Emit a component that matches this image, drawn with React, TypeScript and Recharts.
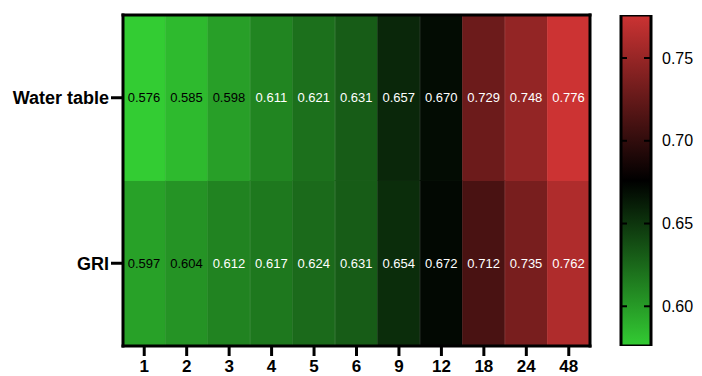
import React from 'react';
import { BarChart, Bar, XAxis, YAxis, Cell, LabelList } from 'recharts';

const timepoints = ['1', '2', '3', '4', '5', '6', '9', '12', '18', '24', '48'];
const waterTable = [0.576, 0.585, 0.598, 0.611, 0.621, 0.631, 0.657, 0.670, 0.729, 0.748, 0.776];
const gri = [0.597, 0.604, 0.612, 0.617, 0.624, 0.631, 0.654, 0.672, 0.712, 0.735, 0.762];
const rowNames = ['GRI', 'Water table'];
const rowTicks = [0.5, 1.5];
const colorTicks = [0.6, 0.65, 0.7, 0.75];
const colorDomain: [number, number] = [0.576, 0.776];

const data = timepoints.map((t, i) => ({ t, gri: gri[i], water: waterTable[i] }));
const cbData = [{ name: 'scale', range: colorDomain }];

const LOW = [51, 204, 51];
const HIGH = [204, 51, 51];
function colorOf(v: number): string {
  const t = Math.max(0, Math.min(1, (v - colorDomain[0]) / (colorDomain[1] - colorDomain[0])));
  let c: number[];
  if (t < 0.5) {
    const f = (0.5 - t) / 0.5;
    c = LOW.map((x) => Math.round(x * f));
  } else {
    const f = (t - 0.5) / 0.5;
    c = HIGH.map((x) => Math.round(x * f));
  }
  return `rgb(${c[0]},${c[1]},${c[2]})`;
}

const FONT = '"Liberation Sans", Arial, sans-serif';

const renderValue = (p: any) => {
  const v = Number(p.value);
  return (
    <text
      x={p.x + p.width / 2}
      y={p.y + p.height / 2}
      textAnchor="middle"
      dominantBaseline="central"
      fontSize={13}
      fontFamily={FONT}
      fill={v < 0.607 ? '#000' : '#fff'}
    >
      {v.toFixed(3)}
    </text>
  );
};

const ColorTick = (p: any) => {
  const { x, y, payload } = p;
  return (
    <g>
      <line x1={x - 31} x2={x - 24} y1={y} y2={y} stroke="#000" strokeWidth={2} />
      <line x1={x - 7} x2={x} y1={y} y2={y} stroke="#000" strokeWidth={2} />
      <text x={x + 11} y={y} dominantBaseline="central" fontSize={16} fontFamily={FONT} fill="#000">
        {Number(payload.value).toFixed(2)}
      </text>
    </g>
  );
};

const borderLine = { stroke: '#000', strokeWidth: 3, strokeLinecap: 'square' as const };

export default function App() {
  return (
    <div style={{ position: 'absolute', left: 0, top: 0, width: 702, height: 376, fontFamily: FONT, background: '#fff' }}>
      <div style={{ position: 'absolute', left: 0, top: 0 }}>
        <BarChart
          width={702}
          height={376}
          data={data}
          margin={{ top: 14, right: 111, bottom: 0, left: 0 }}
          barCategoryGap={0}
          barGap={0}
        >
          <XAxis
            dataKey="t"
            type="category"
            height={30}
            axisLine={borderLine}
            tickLine={{ stroke: '#000', strokeWidth: 3 }}
            tickSize={10}
            tickMargin={4}
            interval={0}
            tick={{ fontSize: 17, fontWeight: 'bold', fill: '#000', fontFamily: FONT }}
          />
          <XAxis
            xAxisId="top"
            dataKey="t"
            orientation="top"
            height={1}
            axisLine={borderLine}
            tick={false}
            tickLine={false}
          />
          <YAxis
            type="number"
            domain={[0, 2]}
            ticks={rowTicks}
            width={123}
            tickFormatter={(v: number) => rowNames[v < 1 ? 0 : 1]}
            axisLine={borderLine}
            tickLine={{ stroke: '#000', strokeWidth: 3 }}
            tickSize={12}
            tickMargin={2}
            tick={{ fontSize: 18, fontWeight: 'bold', fill: '#000', fontFamily: FONT }}
          />
          <YAxis
            yAxisId="right"
            orientation="right"
            width={1}
            domain={[0, 2]}
            axisLine={borderLine}
            tick={false}
            tickLine={false}
          />
          <Bar dataKey={() => 1} stackId="s" isAnimationActive={false}>
            {data.map((d, i) => (
              <Cell key={`g${i}`} fill={colorOf(d.gri)} stroke={colorOf(d.gri)} strokeWidth={0.8} />
            ))}
            <LabelList dataKey="gri" content={renderValue} />
          </Bar>
          <Bar dataKey={() => 1} stackId="s" isAnimationActive={false}>
            {data.map((d, i) => (
              <Cell key={`w${i}`} fill={colorOf(d.water)} stroke={colorOf(d.water)} strokeWidth={0.8} />
            ))}
            <LabelList dataKey="water" content={renderValue} />
          </Bar>
        </BarChart>
      </div>
      <div style={{ position: 'absolute', left: 600, top: 0 }}>
        <BarChart
          width={102}
          height={376}
          data={cbData}
          margin={{ top: 15, right: 0, bottom: 30, left: 21 }}
          barCategoryGap={0}
        >
          <defs>
            <linearGradient id="cbGrad" x1="0" y1="0" x2="0" y2="1">
              <stop offset="0%" stopColor="rgb(204,51,51)" />
              <stop offset="50%" stopColor="#000" />
              <stop offset="100%" stopColor="rgb(51,204,51)" />
            </linearGradient>
          </defs>
          <XAxis dataKey="name" hide />
          <YAxis
            orientation="right"
            type="number"
            width={51}
            domain={colorDomain}
            ticks={colorTicks}
            allowDataOverflow
            axisLine={false}
            tickLine={false}
            tickSize={0}
            tickMargin={0}
            tick={(p: any) => <ColorTick {...p} />}
          />
          <Bar dataKey="range" fill="url(#cbGrad)" stroke="#000" strokeWidth={3} isAnimationActive={false} />
        </BarChart>
      </div>
    </div>
  );
}
